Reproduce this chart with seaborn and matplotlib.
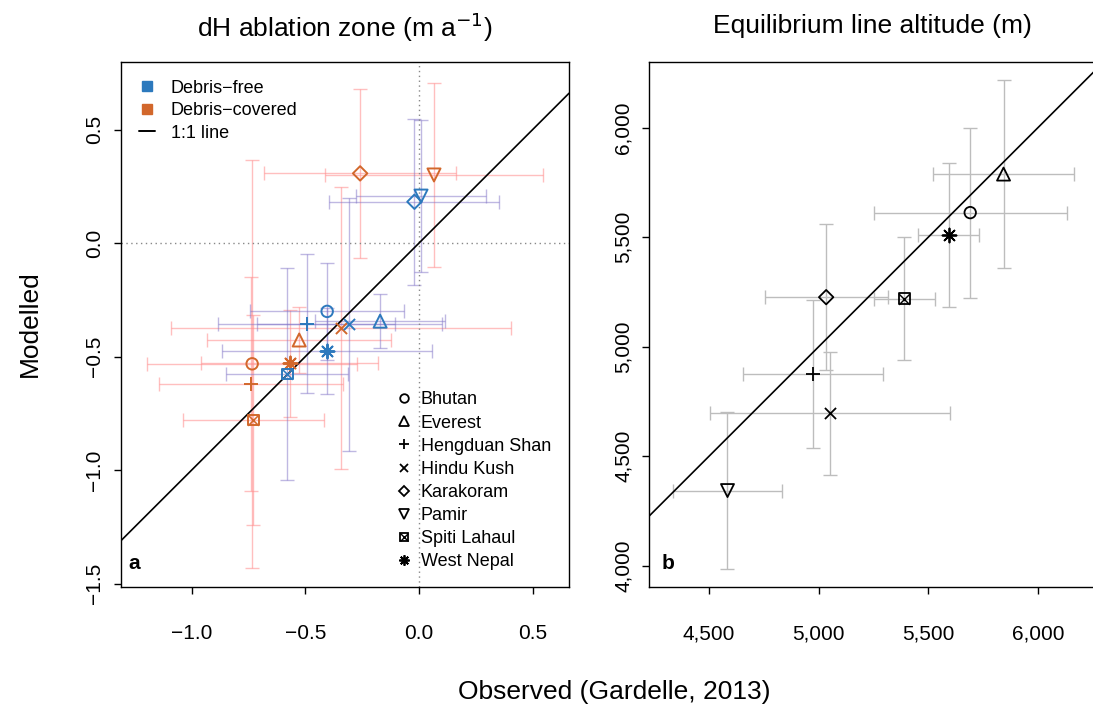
import numpy as np
import matplotlib
matplotlib.use("Agg")
import matplotlib.pyplot as plt
import seaborn as sns
from matplotlib.lines import Line2D
from matplotlib.legend_handler import HandlerTuple
from matplotlib.ticker import FuncFormatter

# regiones
regions = ["Bhutan", "Everest", "Hengduan Shan", "Hindu Kush",
           "Karakoram", "Pamir", "Spiti Lahaul", "West Nepal"]

# panel a: dH zona de ablacion (m/a)
free_obs = [-0.404, -0.171, -0.494, -0.306, -0.020, 0.009, -0.580, -0.404]
free_obs_err = [0.339, 0.286, 0.389, 0.408, 0.374, 0.287, 0.268, 0.462]
free_mod = [-0.301, -0.344, -0.355, -0.358, 0.182, 0.207, -0.577, -0.477]
free_mod_err = [0.215, 0.118, 0.306, 0.557, 0.365, 0.334, 0.468, 0.190]

cov_obs = [-0.734, -0.527, -0.739, -0.343, -0.259, 0.066, -0.729, -0.568]
cov_obs_err = [0.463, 0.406, 0.406, 0.747, 0.424, 0.478, 0.311, 0.389]
cov_mod = [-0.532, -0.427, -0.621, -0.373, 0.307, 0.300, -0.780, -0.530]
cov_mod_err = [0.900, 0.145, 0.470, 0.622, 0.372, 0.404, 0.463, 0.236]

# panel b: ELA (m)
ela_obs = [5691, 5843, 4973, 5052, 5034, 4584, 5391, 5592]
ela_obs_err = [440, 320, 319, 549, 280, 250, 139, 137]
ela_mod = [5612, 5788, 4875, 4696, 5226, 4343, 5219, 5510]
ela_mod_err = [388, 428, 336, 281, 333, 358, 280, 327]

# simbolos tipo pch de R
markers = {
    "Bhutan": ("o", 68, True),
    "Everest": ("^", 88, True),
    "Hengduan Shan": ("+", 100, False),
    "Hindu Kush": ("x", 64, False),
    "Karakoram": ("D", 54, True),
    "Pamir": ("v", 88, True),
    "Spiti Lahaul": ("s", 60, True),
    "West Nepal": ((8, 2, 0), 100, False),
}

blue = "#2C79BD"
orange = "#D2672B"
pink = (1.0, 0.55, 0.55, 0.55)
lavender = (0.5, 0.45, 0.78, 0.5)
grey = "#BDBDBD"

sns.set_theme(style="ticks")
plt.rcParams["font.family"] = ["Liberation Sans", "DejaVu Sans"]
plt.rcParams["axes.edgecolor"] = "black"
plt.rcParams["text.color"] = "black"
plt.rcParams["axes.labelcolor"] = "black"
plt.rcParams["xtick.color"] = "black"
plt.rcParams["ytick.color"] = "black"

fig = plt.figure(figsize=(10.93, 7.11), dpi=100)
ax1 = fig.add_axes([0.1107, 0.1748, 0.4099, 0.7384])
ax2 = fig.add_axes([0.5941, 0.1748, 0.4087, 0.7384])


def draw_points(ax, xs, ys, color, lw=1.4):
    for i, reg in enumerate(regions):
        m, s, filled = markers[reg]
        if filled:
            sns.scatterplot(x=[xs[i]], y=[ys[i]], marker=m, s=s, facecolor="none",
                            edgecolor=color, linewidth=lw, ax=ax, zorder=5)
        else:
            sns.scatterplot(x=[xs[i]], y=[ys[i]], marker=m, s=s, color=color,
                            edgecolor=color, linewidth=lw, ax=ax, zorder=5)
        if reg == "Spiti Lahaul":
            sns.scatterplot(x=[xs[i]], y=[ys[i]], marker="x", s=s, color=color,
                            edgecolor=color, linewidth=lw * 0.8, ax=ax, zorder=5)


# ---- panel a ----
ax1.errorbar(cov_obs, cov_mod, xerr=cov_obs_err, yerr=cov_mod_err, fmt="none",
             ecolor=pink, elinewidth=1.0, capsize=5, capthick=1.0, zorder=1)
ax1.errorbar(free_obs, free_mod, xerr=free_obs_err, yerr=free_mod_err, fmt="none",
             ecolor=lavender, elinewidth=1.0, capsize=5, capthick=1.0, zorder=1)
ax1.axhline(0, color="#888888", ls=(0, (1, 2.5)), lw=1.0, zorder=2)
ax1.axvline(0, color="#888888", ls=(0, (1, 2.5)), lw=1.0, zorder=2)
ax1.axline((0, 0), slope=1, color="black", lw=1.2, zorder=3)
draw_points(ax1, cov_obs, cov_mod, orange)
draw_points(ax1, free_obs, free_mod, blue)

ax1.set_xlim(-1.311, 0.660)
ax1.set_ylim(-1.514, 0.799)
ax1.set_xticks([-1.0, -0.5, 0.0, 0.5])
ax1.set_yticks([-1.5, -1.0, -0.5, 0.0, 0.5])
ax1.xaxis.set_major_formatter(FuncFormatter(lambda v, p: f"{v:.1f}".replace("-", "\u2212")))
ax1.yaxis.set_major_formatter(FuncFormatter(lambda v, p: f"{v:.1f}".replace("-", "\u2212")))

# leyenda tipo de glaciar
h1 = [Line2D([], [], marker="s", ls="none", color=blue, ms=6.5),
      Line2D([], [], marker="s", ls="none", color=orange, ms=6.5),
      Line2D([], [], color="black", lw=1.4)]
leg1 = ax1.legend(h1, ["Debris\u2212free", "Debris\u2212covered", "1:1 line"],
                  loc="upper left", bbox_to_anchor=(0.040, 0.966), frameon=False,
                  fontsize=13, handlelength=0.9, handletextpad=0.85,
                  labelspacing=0.31, borderpad=0, borderaxespad=0)
ax1.add_artist(leg1)

# leyenda regiones
h2 = []
for reg in regions:
    m, s, filled = markers[reg]
    ms = np.sqrt(s) * 0.75
    if reg == "Spiti Lahaul":
        h2.append((Line2D([], [], marker="s", ls="none", color="black", mfc="none", ms=ms, mew=1.3),
                   Line2D([], [], marker="x", ls="none", color="black", ms=ms, mew=1.0)))
    else:
        h2.append(Line2D([], [], marker=m, ls="none", color="black",
                         mfc="none" if filled else "black", ms=ms, mew=1.3))
ax1.legend(h2, regions, loc="upper left", bbox_to_anchor=(0.611, 0.372),
           frameon=False, fontsize=13, handlelength=1.0, handletextpad=0.45,
           labelspacing=0.34, borderpad=0, borderaxespad=0,
           handler_map={tuple: HandlerTuple(ndivide=1)})

ax1.text(0.016, 0.026, "a", transform=ax1.transAxes, fontsize=15,
         fontweight="bold", ha="left", va="bottom")

# ---- panel b ----
ax2.errorbar(ela_obs, ela_mod, xerr=ela_obs_err, yerr=ela_mod_err, fmt="none",
             ecolor=grey, elinewidth=1.0, capsize=5, capthick=1.0, zorder=1)
ax2.axline((4000, 4000), slope=1, color="black", lw=1.2, zorder=3)
draw_points(ax2, ela_obs, ela_mod, "black", lw=1.3)

ax2.set_xlim(4227.6, 6265)
ax2.set_ylim(3904, 6301)
ax2.set_xticks([4500, 5000, 5500, 6000])
ax2.set_yticks([4000, 4500, 5000, 5500, 6000])
ax2.xaxis.set_major_formatter(FuncFormatter(lambda v, p: f"{int(v):,}"))
ax2.yaxis.set_major_formatter(FuncFormatter(lambda v, p: f"{int(v):,}"))
ax2.text(0.028, 0.026, "b", transform=ax2.transAxes, fontsize=15,
         fontweight="bold", ha="left", va="bottom")

for ax in (ax1, ax2):
    ax.set_xlabel("")
    ax.set_ylabel("")
    for sp in ax.spines.values():
        sp.set_visible(True)
        sp.set_linewidth(1.0)
        sp.set_color("black")
    ax.tick_params(axis="both", direction="out", length=5, width=1.0,
                   labelsize=15, colors="black")
    ax.tick_params(axis="x", pad=22)
    ax.tick_params(axis="y", pad=7)
    for lab in ax.get_yticklabels():
        lab.set_rotation(90)
        lab.set_va("center")
    ax.grid(False)

# titulos y ejes
fig.text(345 / 1093, 1 - 27 / 711, "dH ablation zone (m a$^{\u22121}$)",
         ha="center", va="center", fontsize=19)
fig.text(872.5 / 1093, 1 - 26 / 711, "Equilibrium line altitude (m)",
         ha="center", va="center", fontsize=19)
fig.text(30 / 1093, 1 - 324 / 711, "Modelled", rotation=90,
         ha="center", va="center", fontsize=19)
fig.text(614 / 1093, 1 - 692 / 711, "Observed (Gardelle, 2013)",
         ha="center", va="center", fontsize=19)

fig.savefig("out.png", dpi=100)
